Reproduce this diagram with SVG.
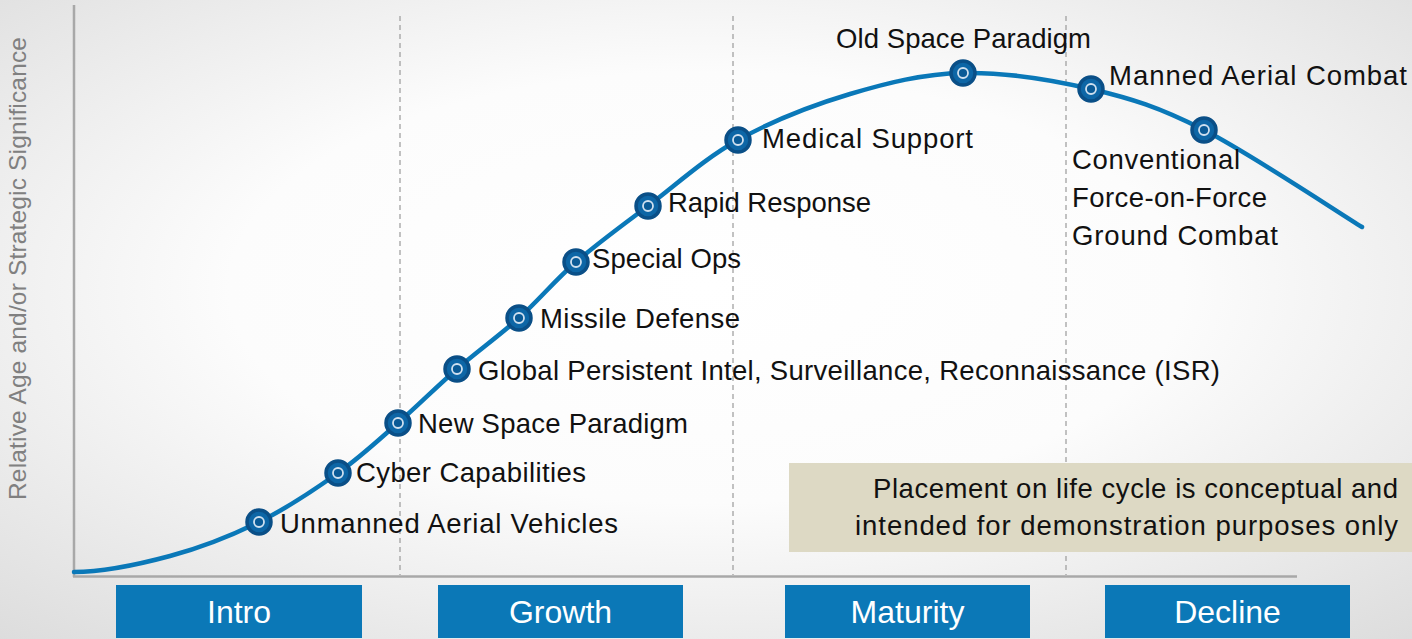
<svg xmlns="http://www.w3.org/2000/svg" width="1412" height="639" viewBox="0 0 1412 639">
<defs>
<radialGradient id="bg" cx="50%" cy="45%" r="75%">
<stop offset="0%" stop-color="#ffffff"/>
<stop offset="45%" stop-color="#fcfcfc"/>
<stop offset="100%" stop-color="#dcdcdc"/>
</radialGradient>
<g id="mk">
<circle r="12" fill="#0d66a6" stroke="#0a4f87" stroke-width="3.5"/>
<circle r="5" fill="#0a5a96" stroke="#cfe0ef" stroke-width="1.8"/>
</g>
</defs>
<style>
.lbl{font-family:"Liberation Sans",Arial,sans-serif;font-size:27.5px;fill:#111}
.ph{fill:#0b78b7}
.pht{font-family:"Liberation Sans",Arial,sans-serif;font-size:32px;fill:#fff;text-anchor:middle}
.dash{stroke:#9a9a9a;stroke-width:1.2;stroke-dasharray:5 4;fill:none}
.axis{stroke:#a8a8a8;stroke-width:2.5;fill:none}
</style>
<rect width="1412" height="639" fill="url(#bg)"/>
<g id="axes">
<line class="axis" x1="74" y1="5" x2="74" y2="577"/>
<line class="axis" x1="73" y1="576.5" x2="1297" y2="576.5"/>
<line class="dash" x1="400" y1="16" x2="400" y2="575"/>
<line class="dash" x1="733" y1="16" x2="733" y2="575"/>
<line class="dash" x1="1066" y1="16" x2="1066" y2="575"/>
<text x="-268.5" y="26" transform="rotate(-90)" text-anchor="middle" textLength="463" style="font-family:'Liberation Sans',Arial,sans-serif;font-size:24.5px;fill:#808080">Relative Age and/or Strategic Significance</text>
</g>
<g id="note">
<rect x="789" y="463" width="623" height="89" fill="#ddd9c4"/>
<text class="lbl" x="1398" y="498" text-anchor="end" textLength="525">Placement on life cycle is conceptual and</text>
<text class="lbl" x="1398" y="535" text-anchor="end" textLength="543">intended for demonstration purposes only</text>
</g>
<g id="connectors">
<path d="M74,572 C104,572 139.2,564.3 170,556 C200.8,547.7 231,535.8 259,522 C287,508.2 314.8,489.5 338,473 C361.2,456.5 378.2,440.3 398,423 C417.8,405.7 436.8,386.5 457,369 C477.2,351.5 499.2,335.8 519,318 C538.8,300.2 554.5,280.7 576,262 C597.5,243.3 621,226.3 648,206 C675,185.7 704.3,158.7 738,140 C771.7,121.3 812.5,105.2 850,94 C887.5,82.8 922.8,73.8 963,73 C1003.2,72.2 1050.8,79.5 1091,89 C1131.2,98.5 1158.8,107 1204,130 C1249.2,153 1335.7,210.8 1362,227" fill="none" stroke="#0a78b8" stroke-width="4.5" stroke-linecap="round"/>
</g>
<g id="n1"><use href="#mk" x="259" y="522"/><text class="lbl" x="280" y="533" textLength="338">Unmanned Aerial Vehicles</text></g>
<g id="n2"><use href="#mk" x="338" y="473"/><text class="lbl" x="356" y="482" textLength="230">Cyber Capabilities</text></g>
<g id="n3"><use href="#mk" x="398" y="423"/><text class="lbl" x="418" y="433" textLength="270">New Space Paradigm</text></g>
<g id="n4"><use href="#mk" x="457" y="369"/><text class="lbl" x="478" y="380" textLength="742">Global Persistent Intel, Surveillance, Reconnaissance (ISR)</text></g>
<g id="n5"><use href="#mk" x="519" y="318"/><text class="lbl" x="540" y="328" textLength="200">Missile Defense</text></g>
<g id="n6"><use href="#mk" x="576" y="262"/><text class="lbl" x="592" y="268" textLength="149">Special Ops</text></g>
<g id="n7"><use href="#mk" x="648" y="206"/><text class="lbl" x="668" y="212" textLength="203">Rapid Response</text></g>
<g id="n8"><use href="#mk" x="738" y="140"/><text class="lbl" x="762" y="148" textLength="211">Medical Support</text></g>
<g id="n9"><use href="#mk" x="963" y="73"/><text class="lbl" x="836" y="48" textLength="255">Old Space Paradigm</text></g>
<g id="n10"><use href="#mk" x="1091" y="89"/><text class="lbl" x="1109" y="85" textLength="298">Manned Aerial Combat</text></g>
<g id="n11"><use href="#mk" x="1204" y="130"/>
<text class="lbl" x="1072" y="169" textLength="168">Conventional</text>
<text class="lbl" x="1072" y="207" textLength="195">Force-on-Force</text>
<text class="lbl" x="1072" y="245" textLength="206">Ground Combat</text></g>
<g id="phase-intro"><rect class="ph" x="116" y="585" width="246" height="53"/><text class="pht" x="239" y="623">Intro</text></g>
<g id="phase-growth"><rect class="ph" x="438" y="585" width="245" height="53"/><text class="pht" x="560.5" y="623">Growth</text></g>
<g id="phase-maturity"><rect class="ph" x="785" y="585" width="245" height="53"/><text class="pht" x="907.5" y="623">Maturity</text></g>
<g id="phase-decline"><rect class="ph" x="1105" y="585" width="245" height="53"/><text class="pht" x="1227.5" y="623">Decline</text></g>
</svg>
